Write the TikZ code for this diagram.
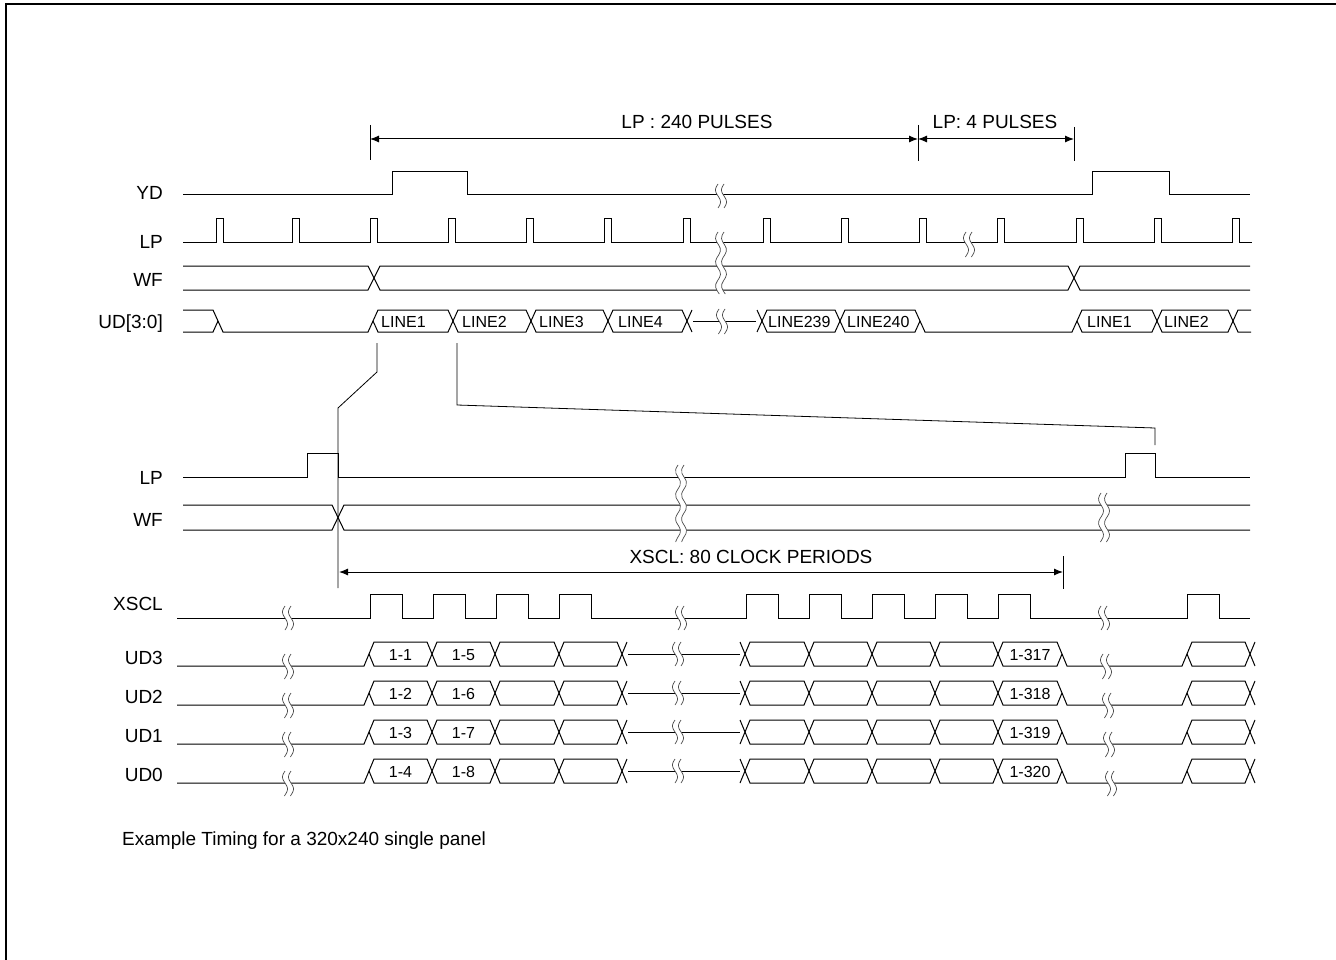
\documentclass[tikz,border=0pt]{standalone}
\usepackage{fontspec}
\setmainfont{Liberation Sans}
\usetikzlibrary{arrows.meta}

\tikzset{
	sig/.style={line width=1pt},
	brkline/.style={black!70, line width=0.7pt},
	lbl/.style={anchor=base east, inner sep=0pt, font=\fontsize{19}{22}\selectfont},
	dimtext/.style={anchor=base, inner sep=0pt, font=\fontsize{19}{22}\selectfont},
	celltext/.style={inner sep=0pt, font=\fontsize{16}{18}\selectfont},
	dimline/.style={line width=1pt, {Latex[length=9pt,width=7pt]}-{Latex[length=9pt,width=7pt]}},
	link/.style={line width=0.8pt}
}

\newcommand{\busbox}[4]{\draw[sig] (#1,#3) -- (#1+5,#3-#4) -- (#2-5,#3-#4) -- (#2,#3) -- (#2-5,#3+#4) -- (#1+5,#3+#4) -- cycle;}
\newcommand{\tbreak}[3]{%
	\pgfmathsetmacro\bya{#2}\pgfmathsetmacro\byb{#3}%
	\fill[white] plot[variable=\yy,domain=\bya:\byb,samples=20,smooth] ({#1-3-2.5*sin(15*(\yy-\bya))},\yy) -- plot[variable=\yy,domain=\byb:\bya,samples=20,smooth] ({#1+3-2.5*sin(15*(\yy-\bya))},\yy) -- cycle;
	\draw[brkline] plot[variable=\yy,domain=\bya:\byb,samples=20,smooth] ({#1-3-2.5*sin(15*(\yy-\bya))},\yy);
	\draw[brkline] plot[variable=\yy,domain=\bya:\byb,samples=20,smooth] ({#1+3-2.5*sin(15*(\yy-\bya))},\yy);
}

\begin{document}
\begin{tikzpicture}[x=1pt,y=-1pt]
	\useasboundingbox (0,0) rectangle (1336,960);
	\draw[line width=2pt] (6,970) -- (6,4) -- (1346,4);

	\coordinate (a0) at (370,139);
	\coordinate (a1) at (918,139);
	\coordinate (a2) at (1074,139);
	\draw[sig] (370,125) -- (370,160);
	\draw[sig] (918,125) -- (918,161);
	\draw[sig] (1074,127) -- (1074,161);
	\draw[dimline] (a0) -- (a1);
	\draw[dimline] (a1) -- (a2);
	\node[dimtext] (p240) at (697,129) {LP : 240 PULSES};
	\node[dimtext] (p4) at (995,129) {LP: 4 PULSES};

	\node[lbl] (yd) at (163,200) {YD};
	\node[lbl] (lpa) at (163,248) {LP};
	\node[lbl] (wfa) at (163,287) {WF};
	\node[lbl] (ud) at (163,328) {UD[3:0]};

	\draw[sig] (183,195) -- (392,195) -- (392,172) -- (467,172) -- (467,195) -- (1092,195) -- (1092,172) -- (1169,172) -- (1169,195) -- (1250,195);
	\draw[sig] (183,243) foreach \x in {216,292,370,448,526,604,683,763,841,919,997,1076,1154,1232} { -- (\x,243) -- (\x,219) -- (\x+7.5,219) -- (\x+7.5,243) } -- (1252,243);
	\draw[sig] (183,266) -- (368,266) -- (380,290) -- (1068,290) -- (1080,266) -- (1250,266);
	\draw[sig] (183,290) -- (368,290) -- (380,266) -- (1068,266) -- (1080,290) -- (1250,290);

	\draw[sig] (183,310) -- (213,310) -- (223,332) -- (368,332) -- (373,321);
	\draw[sig] (183,332) -- (213,332) -- (218,321);
	\busbox{373}{453}{321}{11}
	\busbox{453}{531}{321}{11}
	\busbox{531}{608}{321}{11}
	\busbox{608}{687}{321}{11}
	\draw[sig] (692,310) -- (687,321) -- (692,332);
	\draw[sig] (693,321) -- (756,321);
	\draw[sig] (757,310) -- (762,321) -- (757,332);
	\busbox{762}{840}{321}{11}
	\busbox{840}{920}{321}{11}
	\draw[sig] (920,321) -- (925,332) -- (1072,332) -- (1077,321);
	\busbox{1077}{1157}{321}{11}
	\busbox{1157}{1233}{321}{11}
	\draw[sig] (1233,321) -- (1238,310) -- (1251,310);
	\draw[sig] (1233,321) -- (1238,332) -- (1251,332);
	\node[celltext,anchor=base west] (ln1) at (381,327) {LINE1};
	\node[celltext,anchor=base west] (ln2) at (462,327) {LINE2};
	\node[celltext,anchor=base west] (ln3) at (539,327) {LINE3};
	\node[celltext,anchor=base west] (ln4) at (618,327) {LINE4};
	\node[celltext,anchor=base west] (ln239) at (768,327) {LINE239};
	\node[celltext,anchor=base west] (ln240) at (847,327) {LINE240};
	\node[celltext,anchor=base west] (lnb1) at (1087,327) {LINE1};
	\node[celltext,anchor=base west] (lnb2) at (1164,327) {LINE2};

	\tbreak{721}{184}{208}
	\tbreak{721}{232}{294}
	\tbreak{722}{309}{334}
	\tbreak{969}{232}{257}

	\draw[link] (377,343) -- (377,372) -- (338,408) -- (338,588);
	\draw[link] (457,343) -- (457,405) -- (1155,428) -- (1155,445);

	\node[lbl] (lpb) at (163,484) {LP};
	\node[lbl] (wfb) at (163,526) {WF};
	\node[lbl] (xscl) at (163,610) {XSCL};

	\draw[sig] (183,477) -- (307,477) -- (307,453) -- (338,453) -- (338,477) -- (1125,477) -- (1125,453) -- (1155,453) -- (1155,477) -- (1250,477);
	\draw[sig] (183,505) -- (332,505) -- (344,530) -- (1250,530);
	\draw[sig] (183,530) -- (332,530) -- (344,505) -- (1250,505);
	\tbreak{681}{465}{542}
	\tbreak{1104}{493}{542}

	\coordinate (c0) at (339,572);
	\coordinate (c1) at (1063,572);
	\draw[sig] (1063,556) -- (1063,589);
	\draw[dimline] (c0) -- (c1);
	\node[dimtext] (p80) at (751,563) {XSCL: 80 CLOCK PERIODS};

	\draw[sig] (177,618) foreach \x in {370,433,496,559,746,809,872,935,998,1187} { -- (\x,618) -- (\x,594) -- (\x+32,594) -- (\x+32,618) } -- (1250,618);
	\tbreak{288}{606}{630}
	\tbreak{681}{606}{630}
	\tbreak{1104}{606}{630}

	\foreach \yc/\na/\nb/\nc/\sn/\bx [count=\i] in {654/1-1/1-5/1-317/UD3/1106, 693/1-2/1-6/1-318/UD2/1108, 732/1-3/1-7/1-319/UD1/1109, 771/1-4/1-8/1-320/UD0/1111} {
		\node[lbl] (ud\i) at (163,\yc+10) {\sn};
		\draw[sig] (177,\yc+12) -- (364,\yc+12) -- (369,\yc);
		\busbox{369}{432}{\yc}{12}
		\busbox{432}{495}{\yc}{12}
		\busbox{495}{559}{\yc}{12}
		\busbox{559}{622}{\yc}{12}
		\draw[sig] (627,\yc-12) -- (622,\yc) -- (627,\yc+12);
		\draw[sig] (628,\yc) -- (740,\yc);
		\draw[sig] (740,\yc-12) -- (745,\yc) -- (740,\yc+12);
		\busbox{745}{809}{\yc}{12}
		\busbox{809}{872}{\yc}{12}
		\busbox{872}{935}{\yc}{12}
		\busbox{935}{998}{\yc}{12}
		\busbox{998}{1062}{\yc}{12}
		\draw[sig] (1062,\yc) -- (1067,\yc+12) -- (1182,\yc+12) -- (1187,\yc);
		\busbox{1187}{1250}{\yc}{12}
		\draw[sig] (1255,\yc-12) -- (1250,\yc) -- (1255,\yc+12);
		\node[celltext,anchor=base] (da\i) at (400.5,\yc+6) {\na};
		\node[celltext,anchor=base] (db\i) at (463.5,\yc+6) {\nb};
		\node[celltext,anchor=base] (dc\i) at (1030,\yc+6) {\nc};
		\tbreak{288}{\yc}{\yc+25}
		\tbreak{678}{\yc-12}{\yc+12}
		\tbreak{\bx}{\yc}{\yc+25}
	}

	\node[anchor=base west, inner sep=0pt, font=\fontsize{19}{22}\selectfont] (note) at (122,845) {Example Timing for a 320x240 single panel};
\end{tikzpicture}
\end{document}
